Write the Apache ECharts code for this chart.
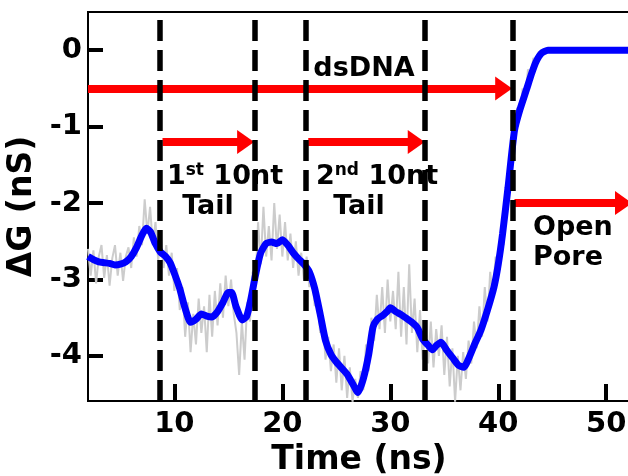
<!DOCTYPE html>
<html>
<head>
<meta charset="utf-8">
<script src="https://cdn.jsdelivr.net/npm/echarts@6/dist/echarts.min.js"></script>
<style>
  html, body { margin: 0; padding: 0; background: #fff; }
  #chart { width: 628px; height: 476px; }
</style>
</head>
<body>
<div id="chart"></div>
<script>
// raw conductance trace (gray), sampled every 0.25 ns starting at 2 ns
const rawStart = 2;
const rawStep = 0.25;
const rawG = [
  -2.60, -2.95, -2.62, -3.05, -2.70, -2.55, -2.98, -2.68, -3.08, -2.72,
  -2.55, -2.95, -2.65, -3.02, -2.70, -2.58, -2.85, -2.45, -2.70, -2.30,
  -2.55, -1.95, -2.40, -2.05, -2.55, -2.25, -2.75, -2.45, -2.85, -2.55,
  -2.95, -2.65, -3.15, -2.85, -3.40, -3.10, -3.75, -3.30, -3.95, -3.45,
  -3.85, -3.25, -3.70, -3.35, -3.95, -3.20, -3.75, -3.15, -3.60, -3.05,
  -3.50, -2.95, -3.35, -3.00, -3.45, -3.70, -4.25, -3.55, -4.05, -3.30,
  -3.55, -2.90, -3.10, -2.25, -2.80, -2.05, -2.70, -2.30, -2.75, -2.00,
  -2.60, -2.15, -2.70, -2.25, -2.75, -2.40, -2.85, -2.50, -2.95, -2.65,
  -3.00, -2.70, -3.10, -2.95, -3.35, -3.20, -3.70, -3.55, -4.05, -3.75,
  -4.20, -3.85, -4.35, -3.90, -4.45, -4.00, -4.55, -4.15, -4.60, -4.30,
  -4.55, -4.20, -4.45, -3.85, -4.20, -3.50, -3.80, -3.20, -3.65, -3.10,
  -3.70, -3.00, -3.55, -3.15, -3.65, -2.90, -3.75, -3.10, -3.85, -2.80,
  -3.70, -3.25, -3.95, -3.40, -4.05, -3.60, -4.10, -3.55, -4.15, -3.65,
  -4.00, -3.60, -4.25, -3.75, -4.40, -3.90, -4.60, -4.00, -4.45, -3.95,
  -4.30, -3.80, -4.10, -3.55, -3.90, -3.35, -3.75, -3.10, -3.55, -2.90,
  -3.20, -2.70, -2.95, -2.45, -2.55, -1.85, -1.95, -1.25, -1.20, -0.75,
  -0.90, -0.50, -0.65, -0.25, -0.35, -0.10, -0.20, -0.02, -0.08, 0.00,
  0.00
];

// smoothed trace (blue)
const smoothT = [
  2.0, 2.5, 3.0, 3.5, 4.0, 4.5, 5.0, 5.5, 6.0, 6.5, 7.0, 7.4, 7.8, 8.2, 8.7,
  9.2, 9.6, 10.0, 10.5, 11.0, 11.5, 12.0, 12.5, 13.0, 13.5, 14.0, 14.5, 15.0,
  15.3, 15.7, 16.3, 16.7, 17.1, 17.5, 18.0, 18.5, 19.0, 19.5, 20.0, 20.5,
  21.0, 21.5, 22.0, 22.5, 23.0, 23.5, 24.0, 24.5, 25.0, 25.5, 26.0, 26.5,
  27.0, 27.5, 28.0, 28.4, 28.8, 29.3, 29.7, 30.0, 30.5, 31.0, 31.5, 32.0,
  32.5, 33.0, 33.5, 33.9, 34.3, 34.7, 35.2, 35.8, 36.3, 36.8, 37.3, 37.8,
  38.4, 39.0, 39.6, 40.0, 40.4, 40.9, 41.5, 42.0, 42.6, 43.1, 43.5, 44.0,
  44.6, 52.2
];
const smoothG = [
  -2.70, -2.74, -2.77, -2.78, -2.79, -2.81, -2.80, -2.77, -2.70, -2.58,
  -2.42, -2.33, -2.38, -2.52, -2.64, -2.70, -2.78, -2.92, -3.12, -3.38,
  -3.56, -3.52, -3.45, -3.48, -3.49, -3.42, -3.30, -3.17, -3.17, -3.35,
  -3.53, -3.48, -3.25, -2.95, -2.65, -2.53, -2.51, -2.53, -2.48, -2.55,
  -2.65, -2.73, -2.80, -2.90, -3.12, -3.45, -3.80, -3.98, -4.08, -4.16,
  -4.24, -4.36, -4.48, -4.30, -3.98, -3.62, -3.52, -3.47, -3.42, -3.37,
  -3.42, -3.46, -3.51, -3.56, -3.63, -3.78, -3.86, -3.92, -3.86, -3.82,
  -3.92, -4.03, -4.12, -4.15, -4.02, -3.85, -3.66, -3.40, -3.10, -2.80,
  -2.40, -1.80, -1.05, -0.78, -0.52, -0.30, -0.15, -0.04, 0.00, 0.00
];

// event boundaries (dashed lines), ns
const boundaries = [8.65, 17.4, 22.15, 33.2, 41.3];

// red arrows: level, start, end (ns)
const arrowY = [-0.5, -1.2, -1.2, -2.0];
const arrowFrom = [2.0, 8.9, 22.4, 41.5];
const arrowTo = [40.5, 16.6, 32.4, 51.6];

const xTicks = [10, 20, 30, 40, 50];
const yTicks = [-4, -3, -2, -1, 0];

const chart = echarts.init(document.getElementById('chart'));

const rawData = rawG.map((v, i) => [rawStart + i * rawStep, v]);
const smoothData = smoothT.map((t, i) => [t, smoothG[i]]);
const arrowLines = arrowY.map((y, i) => [{ coord: [arrowFrom[i], y] }, { coord: [arrowTo[i], y] }]);

const FONT = 'DejaVu Sans';
const annStyle = { fontFamily: FONT, fontWeight: 'bold', fontSize: 27, fill: '#000' };
const richSup = {
  n: { fontFamily: FONT, fontWeight: 'bold', fontSize: 27, lineHeight: 30 },
  s: { fontFamily: FONT, fontWeight: 'bold', fontSize: 17, lineHeight: 30, verticalAlign: 'top' }
};

const option = {
  animation: false,
  grid: {
    left: 88, top: 12, right: -2, bottom: 75,
    outerBoundsMode: 'none', containLabel: false,
    show: true, borderColor: '#000', borderWidth: 2
  },
  xAxis: {
    type: 'value', min: 2, max: 52.2,
    name: 'Time (ns)', nameLocation: 'middle', nameGap: 26,
    nameTextStyle: { fontFamily: FONT, fontWeight: 'bold', fontSize: 33, color: '#000' },
    axisLine: { onZero: false, lineStyle: { color: '#000', width: 2 } },
    axisTick: { inside: true, length: 17, lineStyle: { color: '#000', width: 4 }, customValues: xTicks },
    axisLabel: { fontFamily: FONT, fontWeight: 'bold', fontSize: 29, color: '#000', margin: 9, customValues: xTicks },
    splitLine: { show: false }
  },
  yAxis: {
    type: 'value', min: -4.59, max: 0.5,
    name: 'ΔG (nS)', nameLocation: 'middle', nameGap: 46,
    nameTextStyle: { fontFamily: FONT, fontWeight: 'bold', fontSize: 33, color: '#000' },
    axisLine: { show: true, onZero: false, lineStyle: { color: '#000', width: 2 } },
    axisTick: { show: true, inside: true, length: 15, lineStyle: { color: '#000', width: 4 }, customValues: yTicks },
    axisLabel: { fontFamily: FONT, fontWeight: 'bold', fontSize: 29, color: '#000', margin: 6, customValues: yTicks },
    splitLine: { show: false }
  },
  series: [
    {
      type: 'line', data: rawData, showSymbol: false, z: 1, silent: true,
      lineStyle: { color: '#cccccc', width: 2 }
    },
    {
      type: 'line', data: smoothData, showSymbol: false, z: 2, silent: true, smooth: 0.2,
      lineStyle: { color: '#0000ff', width: 7 }
    },
    {
      type: 'line', data: [], z: 3,
      markLine: {
        silent: true,
        symbol: ['none', 'path://M0,17 L12,0 L24,17 Z'],
        symbolSize: 24, symbolKeepAspect: true,
        label: { show: false },
        lineStyle: { color: '#ff0000', width: 8, type: 'solid' },
        emphasis: { disabled: true },
        data: arrowLines
      }
    },
    {
      type: 'line', data: [], z: 5,
      markLine: {
        silent: true, symbol: 'none',
        label: { show: false },
        lineStyle: { color: '#000', width: 5.5, type: [21, 9] },
        emphasis: { disabled: true },
        data: boundaries.map(v => ({ xAxis: v }))
      }
    }
  ],
  graphic: [
    { type: 'text', z: 10, style: Object.assign({ text: 'dsDNA', x: 364, y: 69, align: 'center', verticalAlign: 'middle' }, annStyle) },
    { type: 'text', z: 10, style: { text: '{n|1}{s|st}{n| 10nt}', rich: richSup, x: 225, y: 177, align: 'center', verticalAlign: 'middle', fill: '#000' } },
    { type: 'text', z: 10, style: Object.assign({ text: 'Tail', x: 208, y: 207, align: 'center', verticalAlign: 'middle' }, annStyle) },
    { type: 'text', z: 10, style: { text: '{n|2}{s|nd}{n| 10nt}', rich: richSup, x: 377, y: 177, align: 'center', verticalAlign: 'middle', fill: '#000' } },
    { type: 'text', z: 10, style: Object.assign({ text: 'Tail', x: 359, y: 207, align: 'center', verticalAlign: 'middle' }, annStyle) },
    { type: 'text', z: 10, style: Object.assign({ text: 'Open', x: 533, y: 228, align: 'left', verticalAlign: 'middle' }, annStyle) },
    { type: 'text', z: 10, style: Object.assign({ text: 'Pore', x: 533, y: 258, align: 'left', verticalAlign: 'middle' }, annStyle) }
  ]
};

chart.setOption(option);
</script>
</body>
</html>
